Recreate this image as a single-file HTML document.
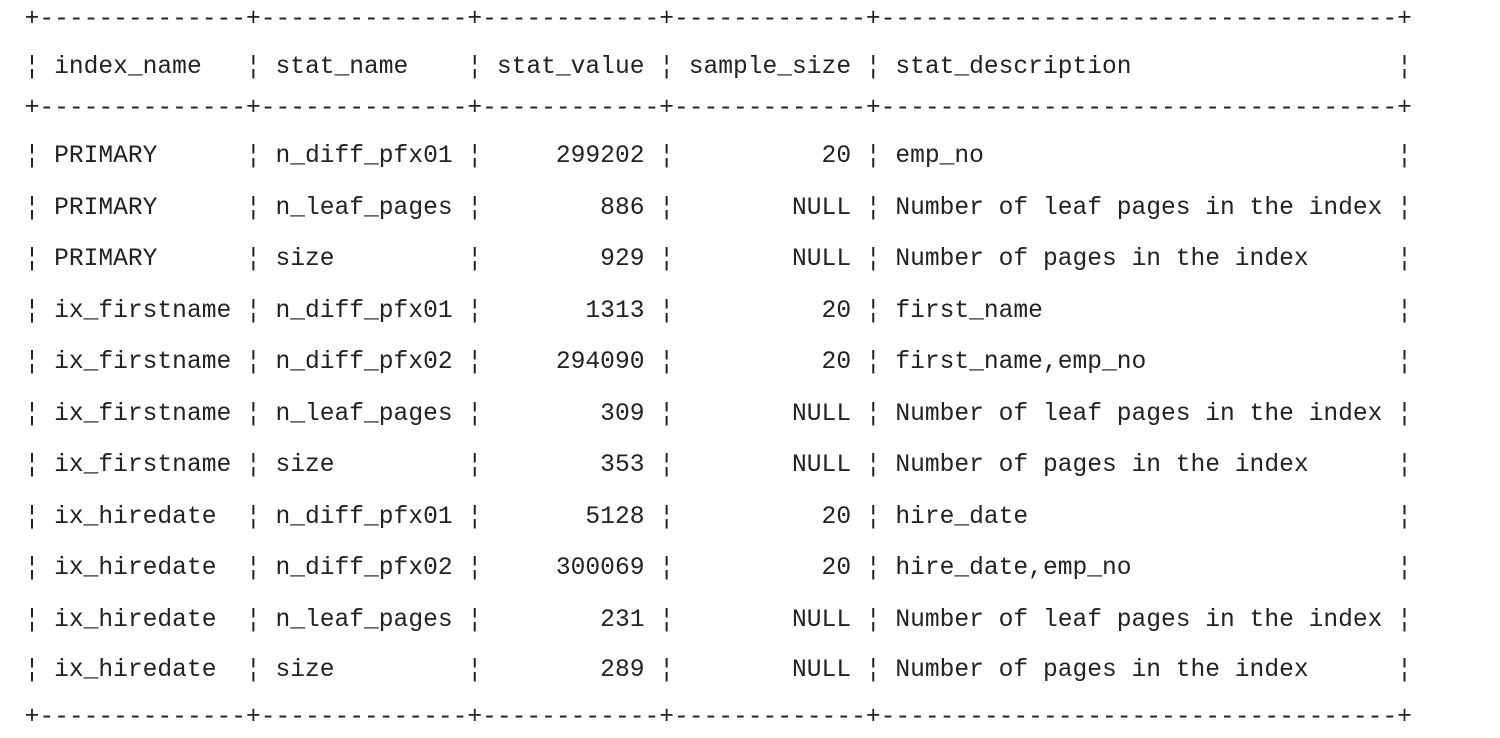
<!DOCTYPE html>
<html><head><meta charset="utf-8"><style>
html,body{margin:0;padding:0;background:#fff;width:1500px;height:738px;overflow:hidden}
.l{position:absolute;left:24.6px;white-space:pre;font-family:"Liberation Mono","DejaVu Sans Mono",monospace;font-size:24.6px;line-height:30px;height:30px;color:#222}
</style></head><body>
<div id="t"></div>
<script>
const lines=[
["+--------------+--------------+------------+-------------+-----------------------------------+",17,"top-border"],
["¦ index_name   ¦ stat_name    ¦ stat_value ¦ sample_size ¦ stat_description                  ¦",65,"header-row"],
["+--------------+--------------+------------+-------------+-----------------------------------+",106,"header-separator"],
["¦ PRIMARY      ¦ n_diff_pfx01 ¦     299202 ¦          20 ¦ emp_no                            ¦",154,"row"],
["¦ PRIMARY      ¦ n_leaf_pages ¦        886 ¦        NULL ¦ Number of leaf pages in the index ¦",205.5,"row"],
["¦ PRIMARY      ¦ size         ¦        929 ¦        NULL ¦ Number of pages in the index      ¦",257,"row"],
["¦ ix_firstname ¦ n_diff_pfx01 ¦       1313 ¦          20 ¦ first_name                        ¦",308.5,"row"],
["¦ ix_firstname ¦ n_diff_pfx02 ¦     294090 ¦          20 ¦ first_name,emp_no                 ¦",360,"row"],
["¦ ix_firstname ¦ n_leaf_pages ¦        309 ¦        NULL ¦ Number of leaf pages in the index ¦",411.5,"row"],
["¦ ix_firstname ¦ size         ¦        353 ¦        NULL ¦ Number of pages in the index      ¦",463,"row"],
["¦ ix_hiredate  ¦ n_diff_pfx01 ¦       5128 ¦          20 ¦ hire_date                         ¦",514.5,"row"],
["¦ ix_hiredate  ¦ n_diff_pfx02 ¦     300069 ¦          20 ¦ hire_date,emp_no                  ¦",566,"row"],
["¦ ix_hiredate  ¦ n_leaf_pages ¦        231 ¦        NULL ¦ Number of leaf pages in the index ¦",617.5,"row"],
["¦ ix_hiredate  ¦ size         ¦        289 ¦        NULL ¦ Number of pages in the index      ¦",668,"row"],
["+--------------+--------------+------------+-------------+-----------------------------------+",715,"bottom-border"]
];
const t=document.getElementById('t');
lines.forEach((ln,i)=>{
  const d=document.createElement('div');
  d.className='l';
  d.style.top=(ln[1]-12)+'px';
  d.textContent=ln[0];
  
  
  t.appendChild(d);
});
</script>
</body></html>
